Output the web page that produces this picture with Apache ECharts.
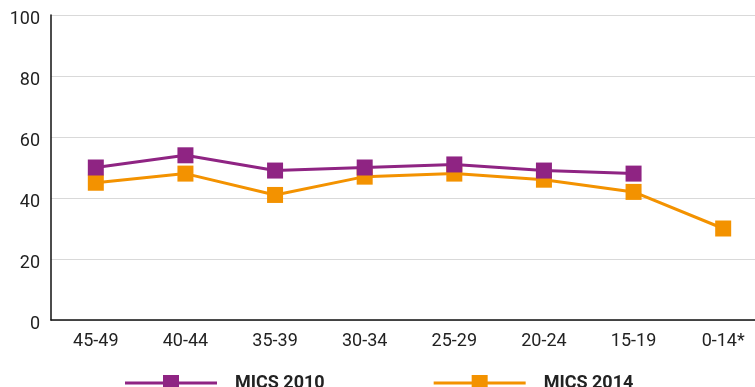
<!DOCTYPE html>
<html>
<head>
<meta charset="utf-8">
<script src="https://cdn.jsdelivr.net/npm/echarts@6/dist/echarts.min.js"></script>
<style>
  html, body { margin: 0; padding: 0; background: #fff; }
  #chart { width: 755px; height: 387px; }
</style>
</head>
<body>
<div id="chart"></div>
<script>
// Age groups along the x axis
var ageGroups = ['45-49', '40-44', '35-39', '30-34', '25-29', '20-24', '15-19', '0-14*'];
// Percent values per survey round
var mics2010 = [50, 54, 49, 50, 51, 49, 48, null];
var mics2014 = [45, 48, 41, 47, 48, 46, 42, 30];
// Y axis ticks
var yTicks = [0, 20, 40, 60, 80, 100];

var purple = '#8f2483';
var orange = '#f39200';

// Legend marker: a horizontal stroke with a square in its middle
var legendIcon = 'path://M0,6.5H38V0H54V6.5H92V9.5H54V16H38V9.5H0Z';

var chart = echarts.init(document.getElementById('chart'));
chart.setOption({
  animation: false,
  grid: { left: 51, top: 15, width: 717, height: 305, outerBoundsMode: 'none', containLabel: false },
  legend: {
    left: 120,
    top: 369,
    padding: 5,
    itemWidth: 92,
    itemHeight: 16,
    itemGap: 109,
    icon: legendIcon,
    textStyle: {
      fontFamily: 'Roboto', fontSize: 18, fontWeight: 'bold', color: '#222',
      padding: [0, 0, 0, 13]
    },
    data: ['MICS 2010', 'MICS 2014']
  },
  xAxis: {
    type: 'category',
    data: ageGroups,
    boundaryGap: true,
    axisLine: { lineStyle: { color: '#111', width: 1.5 } },
    axisTick: { show: false },
    axisLabel: { margin: 12, fontFamily: 'Roboto', fontSize: 18, color: '#222' }
  },
  yAxis: {
    type: 'value',
    min: yTicks[0],
    max: yTicks[yTicks.length - 1],
    interval: yTicks[1] - yTicks[0],
    axisLine: { show: true, lineStyle: { color: '#111', width: 1.5 } },
    axisTick: { show: false },
    splitLine: { lineStyle: { color: '#d9d9d9', width: 1.2 } },
    axisLabel: {
      margin: 11, fontFamily: 'Roboto', fontSize: 18, color: '#222',
      verticalAlign: 'top', lineHeight: 9
    }
  },
  series: [
    {
      name: 'MICS 2014',
      type: 'line',
      data: mics2014,
      z: 2,
      symbol: 'rect',
      symbolSize: 16,
      lineStyle: { color: orange, width: 3 },
      itemStyle: { color: orange }
    },
    {
      name: 'MICS 2010',
      type: 'line',
      data: mics2010,
      z: 3,
      symbol: 'rect',
      symbolSize: 16,
      lineStyle: { color: purple, width: 3 },
      itemStyle: { color: purple }
    }
  ]
});
</script>
</body>
</html>
